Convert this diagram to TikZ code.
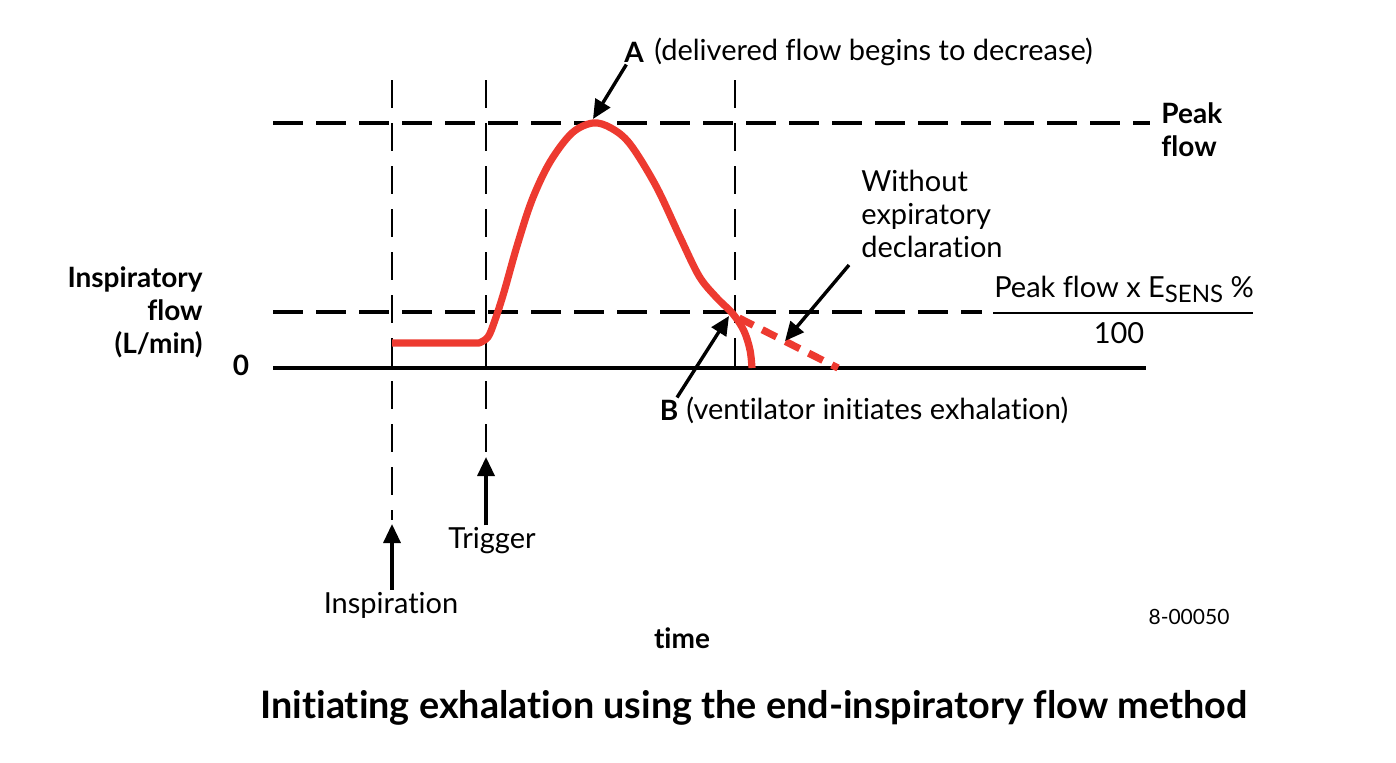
\documentclass[tikz,border=0pt]{standalone}
\usepackage{fontspec}
\setmainfont{Lato}[Ligatures=NoCommon]
\usetikzlibrary{arrows.meta}
\definecolor{flowred}{RGB}{237,58,48}

\tikzset{
  axis/.style={line width=2.2pt},
  level/.style={line width=1.9pt, dash pattern=on 15pt off 6.5pt},
  marker/.style={line width=0.8pt, dash pattern=on 14pt off 7.5pt},
  flow/.style={flowred, line width=3.6pt, line join=round},
  pointer/.style={line width=1.7pt, -{Triangle[length=9.5pt,width=8.5pt]}},
  txt/.style={inner sep=1pt, font=\fontsize{14.5}{16.5}\selectfont},
  btxt/.style={inner sep=1pt, font=\fontsize{14}{16.5}\selectfont\bfseries},
}

\begin{document}
\begin{tikzpicture}[x=0.5pt, y=-0.5pt]
  \path[use as bounding box] (0,0) rectangle (1396,762);

  % points on the graph
  \coordinate (base0) at (273,368);
  \coordinate (base1) at (1146,368);
  \coordinate (peak0) at (273,123);
  \coordinate (peak1) at (1150,123);
  \coordinate (esens0) at (273,312);
  \coordinate (esens1) at (982,312);
  \coordinate (inspTop) at (392,80);
  \coordinate (inspEnd) at (392,520);
  \coordinate (inspTip) at (392,524);
  \coordinate (trigTop) at (486,80);
  \coordinate (trigEnd) at (486,452);
  \coordinate (trigTip) at (486,457);
  \coordinate (exhTop) at (735,80);
  \coordinate (exhEnd) at (735,371);
  \coordinate (peakPt) at (593,119);
  \coordinate (crossPt) at (729,316);
  \coordinate (altTip) at (785,341);
  \coordinate (altTail) at (849,265);
  \coordinate (frac0) at (993,313);
  \coordinate (frac1) at (1253,313);

  % levels and time markers
  \draw[level] (peak0) -- (peak1);
  \draw[level] (esens0) -- (esens1);
  \draw[marker] (inspTop) -- (inspEnd);
  \draw[marker] (trigTop) -- (trigEnd);
  \draw[marker] (exhTop) -- (exhEnd);
  \draw[axis] (base0) -- (base1);

  % delivered flow
  \draw[flow] (392,343) -- plot[smooth, tension=0.55] coordinates {
    (479,343) (488,337) (495,320) (504,292)
    (517,246) (532,200) (550,162) (572,133) (593,123) (611,128)
    (630,144) (656,186) (680,237) (699,276) (716,297) (733,314)
    (744,331) (750,350) (752,368)};
  \draw[flow, dash pattern=on 8pt off 5pt] (739,318) -- (838,368);

  % labels
  \node[btxt, align=right, anchor=east] (yaxis) at (205,312) {Inspiratory\\flow\\(L/min)};
  \node[btxt] (zero) at (241,365) {0};
  \node[btxt, align=left, anchor=west] (peaklbl) at (1159,130) {Peak\\flow};
  \node[btxt] (A) at (634,52) {A};
  \node[txt, anchor=west] (Atxt) at (652,52) {(delivered flow begins to decrease)};
  \node[btxt] (B) at (669,410) {B};
  \node[txt, anchor=west] (Btxt) at (684,410) {(ventilator initiates exhalation)};
  \node[txt, align=left, anchor=west] (without) at (859,214) {Without\\expiratory\\declaration};
  \node[txt] (numer) at (1124,289) {Peak flow x E\raisebox{-2.5pt}{\fontsize{12}{12}\selectfont SENS} \%};
  \node[txt] (denom) at (1119,333) {100};
  \node[txt] (trig) at (492,541) {Trigger};
  \node[txt] (insp) at (391,605) {Inspiration};
  \node[txt, font=\fontsize{10.5}{12}\selectfont] (figno) at (1189,617) {8-00050};
  \node[btxt] (time) at (682,638) {time};
  \node[inner sep=0pt, font=\fontsize{18.9}{22}\selectfont\bfseries] (title) at (754,708)
    {Initiating exhalation using the end-inspiratory flow method};

  % fraction bar
  \draw[line width=1.1pt] (frac0) -- (frac1);

  % pointers
  \draw[pointer] (A) -- (peakPt);
  \draw[pointer] (B) -- (crossPt);
  \draw[pointer] (altTail) -- (altTip);
  \draw[pointer] (trig.north -| trigTip) -- (trigTip);
  \draw[pointer] (insp.north -| inspTip) -- (inspTip);
\end{tikzpicture}
\end{document}
